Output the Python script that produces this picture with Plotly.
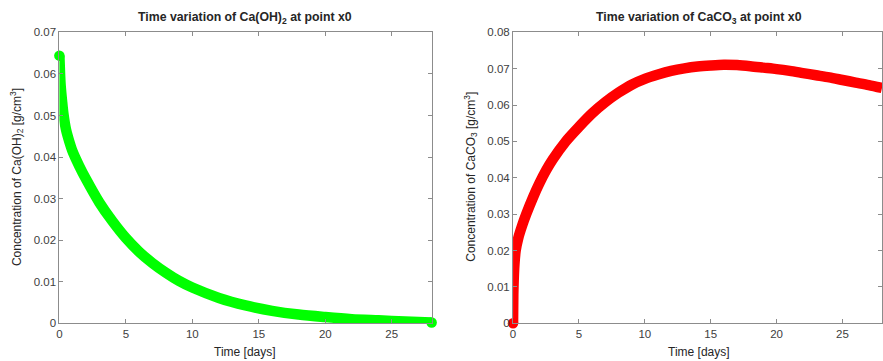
import plotly.graph_objects as go

# ---- data ----
t_caoh = [0, 0.05, 0.1, 0.2, 0.3, 0.5, 0.75, 1, 1.5, 2, 3, 4, 5, 6, 7, 8, 9, 10,
          12, 14, 16, 18, 20, 22, 24, 26, 28]
caoh = [0.0644, 0.0600, 0.0570, 0.0535, 0.0505, 0.0466, 0.0437, 0.0413, 0.0378,
        0.0347, 0.0291, 0.0245, 0.0205, 0.0172, 0.0145, 0.0122, 0.0102, 0.0086,
        0.0061, 0.0043, 0.0030, 0.0021, 0.0015, 0.0010, 0.0007, 0.0004, 0.0002]

t_caco3 = [0, 0.02, 0.05, 0.1, 0.2, 0.4, 0.7, 1, 1.5, 2, 2.5, 3, 4, 5, 6, 7, 8, 9,
           10, 11, 12, 13, 14, 15, 16, 17, 18, 19, 20, 21, 22, 23, 24, 25, 26, 27, 28]
caco3 = [0.0, 0.008, 0.012, 0.016, 0.020, 0.0235, 0.027, 0.030, 0.0345, 0.0385,
         0.042, 0.045, 0.050, 0.054, 0.0577, 0.0608, 0.0634, 0.0656, 0.0672, 0.0684,
         0.0694, 0.0701, 0.0706, 0.0709, 0.0711, 0.0710, 0.0707, 0.0703, 0.0699,
         0.0694, 0.0688, 0.0682, 0.0676, 0.0669, 0.0662, 0.0655, 0.0647]

x_ticks = [0, 5, 10, 15, 20, 25]
y1_ticks = [0, 0.01, 0.02, 0.03, 0.04, 0.05, 0.06, 0.07]
y2_ticks = [0, 0.01, 0.02, 0.03, 0.04, 0.05, 0.06, 0.07, 0.08]

W, H = 883, 361
FONT = "Liberation Sans, Arial, sans-serif"
TXT = "#262626"
TICKTXT = "#404040"
AX = "#8c8c8c"

# mapping from target picture pixels to figure pixels (calibrated on the capture)
XA, XB = 3.0, 0.994
YA, YB = 3.0, 0.972


def px(v):
    return min(1.0, max(0.0, (v - XA) / XB / W))


def py(v):
    return min(1.0, max(0.0, 1 - (v - YA) / YB / H))


fig = go.Figure()

fig.add_trace(go.Scatter(x=t_caoh, y=caoh, mode="lines",
                         line=dict(color="#00ff00", width=10.5, shape="spline", smoothing=0.8),
                         xaxis="x", yaxis="y", showlegend=False, hoverinfo="skip"))
fig.add_trace(go.Scatter(x=[t_caoh[0], t_caoh[-1]], y=[caoh[0], caoh[-1]], mode="markers",
                         marker=dict(color="#00ff00", size=10.5, line=dict(width=0)),
                         cliponaxis=False, xaxis="x", yaxis="y", showlegend=False,
                         hoverinfo="skip"))
fig.add_trace(go.Scatter(x=t_caco3, y=caco3, mode="lines",
                         line=dict(color="#ff0000", width=10.5, shape="spline", smoothing=0.8),
                         xaxis="x2", yaxis="y2", showlegend=False, hoverinfo="skip"))
fig.add_trace(go.Scatter(x=[t_caco3[0]], y=[caco3[0]], mode="markers",
                         marker=dict(color="#ff0000", size=10.5, line=dict(width=0)),
                         cliponaxis=False, xaxis="x2", yaxis="y2", showlegend=False,
                         hoverinfo="skip"))

axis_common = dict(showline=True, linecolor=AX, linewidth=1, mirror="ticks",
                   ticks="inside", ticklen=4, tickcolor=AX, showgrid=False,
                   zeroline=False, tickfont=dict(family=FONT, size=11.5, color=TICKTXT))

fig.update_layout(
    width=W, height=H,
    margin=dict(l=0, r=0, t=0, b=0),
    paper_bgcolor="white", plot_bgcolor="white",
    hovermode=False,
    xaxis=dict(domain=[px(59.3), px(431)], range=[0, 28], tickvals=x_ticks,
               anchor="y", **axis_common),
    yaxis=dict(domain=[py(322), py(29.5)], range=[0, 0.07], tickvals=y1_ticks,
               ticktext=[f"{v:g}" for v in y1_ticks], anchor="x", **axis_common),
    xaxis2=dict(domain=[px(512.3), px(882.5)], range=[0, 28], tickvals=x_ticks,
                anchor="y2", **axis_common),
    yaxis2=dict(domain=[py(322), py(29.5)], range=[0, 0.08], tickvals=y2_ticks,
                ticktext=[f"{v:g}" for v in y2_ticks], anchor="x2", **axis_common),
)

ann = [
    dict(text="<b>Time variation of Ca(OH)<sub>2</sub> at point x0</b>", x=px(245), y=py(15),
         font=dict(size=12.3)),
    dict(text="<b>Time variation of CaCO<sub>3</sub> at point x0</b>", x=px(697.5), y=py(15),
         font=dict(size=12.3)),
    dict(text="Time [days]", x=px(245), y=py(351), font=dict(size=12)),
    dict(text="Time [days]", x=px(697.5), y=py(351), font=dict(size=12)),
    dict(text="Concentration of Ca(OH)<sub>2</sub> [g/cm<sup>3</sup>]", x=px(17), y=py(175),
         textangle=-90, font=dict(size=12)),
    dict(text="Concentration of CaCO<sub>3</sub> [g/cm<sup>3</sup>]", x=px(470), y=py(175),
         textangle=-90, font=dict(size=12)),
]
for a in ann:
    f = dict(family=FONT, color=TXT)
    f.update(a.pop("font"))
    fig.add_annotation(xref="paper", yref="paper", showarrow=False,
                       xanchor="center", yanchor="middle", font=f, **a)

css = ("var s=document.createElement('style');"
       "s.textContent='html,body{margin:0;padding:0;width:883px;height:361px;overflow:hidden}"
       ".plotly-graph-div{display:block;position:absolute;left:0;top:0}';"
       "document.head.appendChild(s);")
fig.write_html("out.html", config={"displayModeBar": False, "staticPlot": True},
               post_script=css)
